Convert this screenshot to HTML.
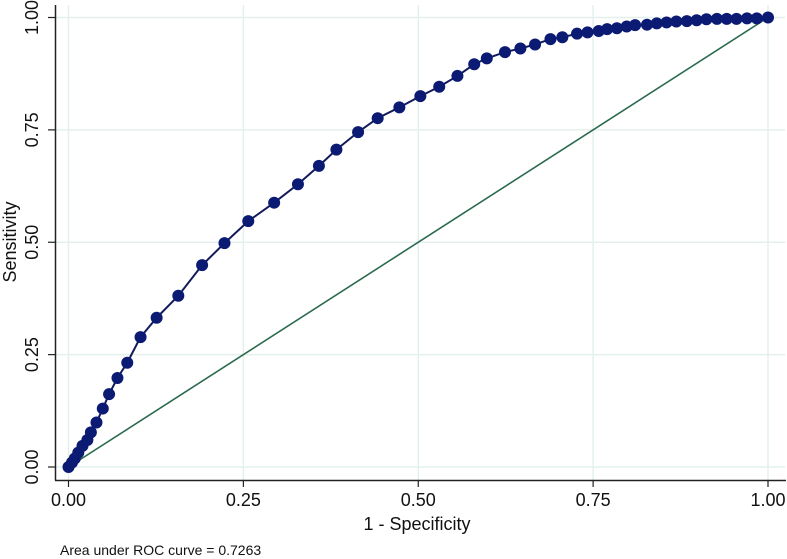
<!DOCTYPE html>
<html><head><meta charset="utf-8"><style>
html,body{margin:0;padding:0;background:#fff;}
svg{display:block;font-family:"Liberation Sans",sans-serif;}
</style></head><body>
<svg id="chart" width="787" height="559" viewBox="0 0 787 559" xmlns="http://www.w3.org/2000/svg"></svg>
<script>
const xTicks=[0,0.25,0.5,0.75,1];
const yTicks=[0,0.25,0.5,0.75,1];
const tickLabels=["0.00","0.25","0.50","0.75","1.00"];
const fpr=[0,.005,.009,.014,.020,.027,.032,.040,.049,.058,.070,.084,.103,.126,.157,.191,.223,.257,.294,.328,.358,.383,.414,.442,.473,.503,.530,.556,.580,.598,.624,.646,.667,.689,.706,.727,.742,.758,.770,.784,.798,.810,.827,.841,.855,.869,.884,.898,.912,.927,.941,.955,.970,.984,1];
const tpr=[0,.010,.019,.032,.047,.060,.077,.099,.130,.162,.198,.232,.289,.332,.381,.449,.498,.547,.588,.629,.670,.706,.745,.776,.800,.825,.846,.870,.896,.909,.923,.931,.940,.952,.956,.964,.967,.970,.974,.976,.980,.983,.984,.987,.989,.991,.992,.994,.996,.997,.997,.997,.998,.998,1];
const refLine=[0,1];
const NS="http://www.w3.org/2000/svg";
const svg=document.getElementById('chart');
const X=v=>68.5+v*699.5, Y=v=>467-v*449.5;
function mk(t,a,p){const e=document.createElementNS(NS,t);for(const k in a)e.setAttribute(k,a[k]);(p||svg).appendChild(e);return e;}
xTicks.forEach((v,i)=>{
 const g=mk('line',{x1:X(v),x2:X(v),y1:5,y2:480,stroke:'#e4f0ec','stroke-width':1.5});
 
 
});
yTicks.forEach((v,i)=>{
 const g=mk('line',{x1:56,x2:785,y1:Y(v),y2:Y(v),stroke:'#e4f0ec','stroke-width':1.5});
 
 
});
const ya=mk('line',{x1:55.5,x2:55.5,y1:5,y2:480.5,stroke:'#222','stroke-width':1.5});


const xa=mk('line',{x1:55,x2:786,y1:480.5,y2:480.5,stroke:'#222','stroke-width':1.5});


xTicks.forEach((v,i)=>{
 mk('line',{x1:X(v),x2:X(v),y1:480,y2:487,stroke:'#222','stroke-width':1.2});
 const t=mk('text',{x:X(v),y:506,'text-anchor':'middle','font-size':18,fill:'#111'});
 t.textContent=tickLabels[i];
 
 
});
yTicks.forEach((v,i)=>{
 mk('line',{x1:48,x2:56,y1:Y(v),y2:Y(v),stroke:'#222','stroke-width':1.2});
 const t=mk('text',{x:0,y:0,'text-anchor':'middle','font-size':18,fill:'#111',transform:`translate(38,${Y(v)}) rotate(-90)`});
 t.textContent=tickLabels[i];
 
 
});
const yt=mk('text',{x:0,y:0,'text-anchor':'middle','font-size':18,fill:'#111',transform:'translate(16,242) rotate(-90)'});
yt.textContent='Sensitivity';


const xt=mk('text',{x:417,y:530,'text-anchor':'middle','font-size':18,fill:'#111'});
xt.textContent='1 - Specificity';


const note=mk('text',{x:60,y:555,'font-size':14,fill:'#111'});
note.textContent='Area under ROC curve = 0.7263';


const rl=mk('line',{x1:X(refLine[0]),y1:Y(refLine[0]),x2:X(refLine[1]),y2:Y(refLine[1]),stroke:'#2a6a4c','stroke-width':1.6});


const pts=fpr.map((v,i)=>X(v)+','+Y(tpr[i])).join(' ');
const pl=mk('polyline',{points:pts,fill:'none',stroke:'#121a5c','stroke-width':2});


fpr.forEach((v,i)=>{
 const c=mk('circle',{cx:X(v),cy:Y(tpr[i]),r:6,fill:'#0b1a72'});
 
 
});
</script>
</body></html>
